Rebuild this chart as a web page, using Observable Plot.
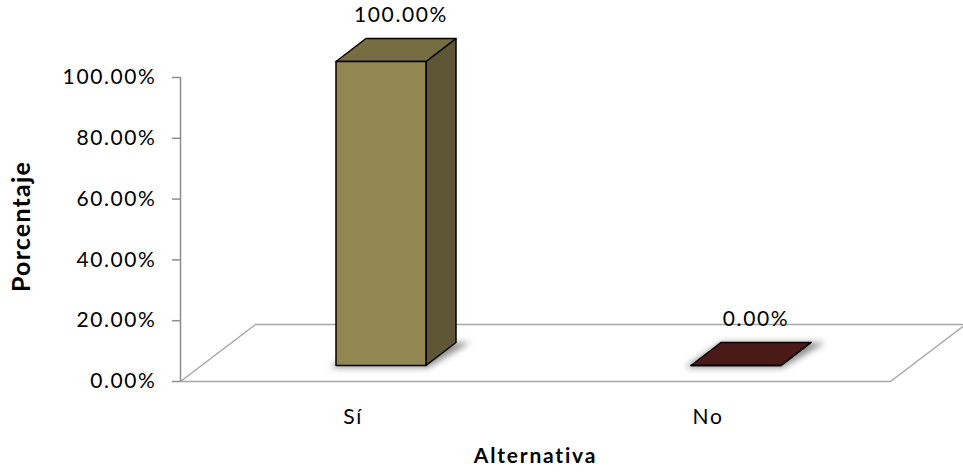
<!DOCTYPE html>
<html>
<head>
<meta charset="utf-8">
<script src="https://cdn.jsdelivr.net/npm/d3@7"></script>
<script src="https://cdn.jsdelivr.net/npm/@observablehq/plot@0.6"></script>
<style>
  html, body { margin: 0; padding: 0; background: #fff; }
  path[aria-label="shadow"] { filter: blur(3px); }
  text[aria-label="lbl"] { letter-spacing: 1.6px; }
  text[aria-label="xtitle"] { letter-spacing: 1.8px; }
  text[aria-label="ytitle"] { letter-spacing: 1.2px; }
</style>
</head>
<body>
<div id="chart"></div>
<script>
// ---- data ----
const categories = ["Sí", "No"];
const values = [1.0, 0.0];
const yTicks = [0, 0.2, 0.4, 0.6, 0.8, 1.0];
const xTitle = "Alternativa";
const yTitle = "Porcentaje";
const frontColors = ["#928752", "#5a1f1d"];
const sideColors = ["#5e5634", "#3a1211"];
const topColors = ["#766d40", "#4a1a18"];

const fmt = d3.format(".2%");

// ---- 3D geometry (in scale units) ----
const W = 963, H = 472;
const mL = 180, mR = 73, mT = 77, mB = 91;
const pxU = 2 / (W - mL - mR);      // x units per pixel
const pxV = 1 / (H - mT - mB);      // y units per pixel
const base = 16 * pxV;              // bar base lift
const depthU = 30 * pxU, depthV = 23 * pxV;
const floorU = 75 * pxU, floorV = 57 * pxV;
const offU = 23 * pxU, halfW = 45 * pxU;

const bars = categories.map((c, i) => ({c, i, v: values[i], cx: i + 0.5 + offU}));

const faces = [];
const shadows = [];
bars.forEach(b => {
  const l = b.cx - halfW, r = b.cx + halfW, v0 = base, v1 = base + b.v;
  shadows.push(
    {id: "s" + b.i, x: l - 6 * pxU, y: v0 - 2 * pxV},
    {id: "s" + b.i, x: r + 2 * pxU, y: v0 - 2 * pxV},
    {id: "s" + b.i, x: r + depthU + 14 * pxU, y: v0 + depthV},
    {id: "s" + b.i, x: l + depthU, y: v0 + depthV}
  );
  const side = [[r, v0], [r + depthU, v0 + depthV], [r + depthU, v1 + depthV], [r, v1]];
  const top = [[l, v1], [r, v1], [r + depthU, v1 + depthV], [l + depthU, v1 + depthV]];
  const front = [[l, v0], [r, v0], [r, v1], [l, v1]];
  side.forEach(([x, y]) => faces.push({id: b.i + "side", x, y, fill: sideColors[b.i]}));
  top.forEach(([x, y]) => faces.push({id: b.i + "top", x, y, fill: topColors[b.i]}));
  front.forEach(([x, y]) => faces.push({id: b.i + "front", x, y, fill: frontColors[b.i]}));
});

const floor = [
  {x: 0, y: 0}, {x: categories.length, y: 0},
  {x: categories.length + floorU, y: floorV}, {x: floorU, y: floorV}
];

const font = "Lato, 'Open Sans', sans-serif";
const tag = s => () => s;

const chart = Plot.plot({
  width: W, height: H,
  marginLeft: mL, marginRight: mR, marginTop: mT, marginBottom: mB,
  x: {domain: [0, categories.length], axis: null},
  y: {domain: [0, 1], axis: null},
  color: {type: "identity"},
  style: {fontFamily: font, fontSize: "21px", color: "#000", background: "#fff", overflow: "visible"},
  marks: [
    // floor
    Plot.line(floor, {x: "x", y: "y", curve: "linear-closed", stroke: "#a6a6a6", strokeWidth: 1.5, fill: "#fff"}),
    // y axis line and ticks
    Plot.ruleX([0], {y1: 0, y2: 1, stroke: "#8c8c8c", strokeWidth: 1.5}),
    Plot.ruleY(yTicks, {y: d => d, x1: -8 * pxU, x2: 0, stroke: "#8c8c8c", strokeWidth: 1.5}),
    Plot.text(yTicks, {x: 0, y: d => d, text: d => fmt(d), textAnchor: "end", dx: -24, fontSize: 21, fill: "#000", ariaLabel: tag("lbl")}),
    // shadows
    Plot.line(shadows, {x: "x", y: "y", z: "id", curve: "linear-closed", fill: "#444", fillOpacity: 0.6, stroke: "none", ariaLabel: tag("shadow")}),
    // bars
    Plot.line(faces, {x: "x", y: "y", z: "id", fill: "fill", curve: "linear-closed", stroke: "#000", strokeWidth: 1.5, strokeLinejoin: "round"}),
    // value labels
    Plot.text(bars, {x: "cx", y: d => base + d.v, text: d => fmt(d.v), dx: 20, dy: -46, fontSize: 21, fill: "#000", ariaLabel: tag("lbl")}),
    // category labels
    Plot.text(bars, {x: d => d.i + 0.5, y: 0, text: "c", dx: -5, dy: 36, fontSize: 21, fill: "#000", ariaLabel: tag("lbl")}),
    // axis titles
    Plot.text([xTitle], {x: categories.length / 2, y: 0, text: d => d, dy: 75, fontSize: 21, fontWeight: "bold", fill: "#000", ariaLabel: tag("xtitle")}),
    Plot.text([yTitle], {x: 0, y: 0.5, text: d => d, dx: -159, dy: -3, rotate: -90, fontSize: 25, fontWeight: "bold", fill: "#000", ariaLabel: tag("ytitle")})
  ]
});
document.getElementById("chart").appendChild(chart);
</script>
</body>
</html>
